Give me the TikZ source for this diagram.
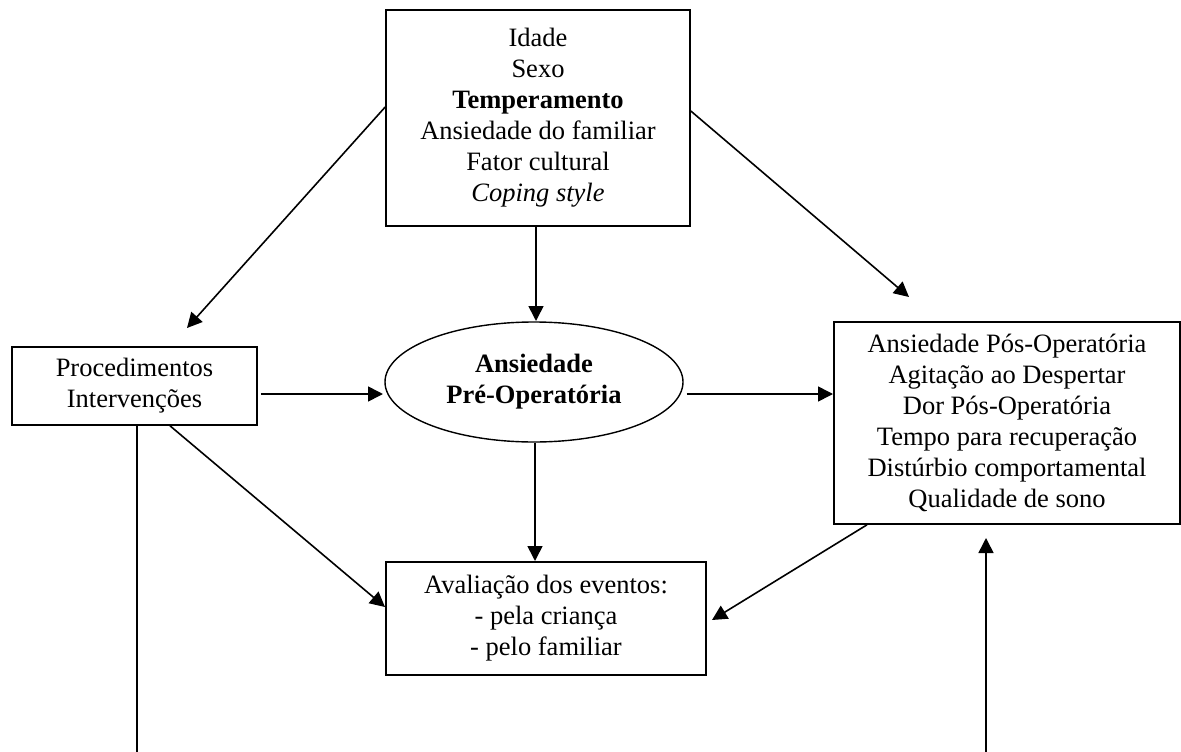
\documentclass[tikz,border=0pt]{standalone}
\usepackage{fontspec}
\setmainfont{Liberation Serif}
\usetikzlibrary{shapes.geometric,arrows.meta}
\begin{document}
\begin{tikzpicture}[x=1pt,y=-1pt,
  every node/.style={font=\fontsize{26.5}{31}\selectfont, align=center, inner sep=0pt},
  box/.style={draw, line width=1.6pt},
  oval/.style={draw, ellipse, line width=1.4pt},
  arr/.style={line width=1.6pt, -{Triangle[length=15pt,width=15pt]}},
  plain/.style={line width=1.6pt}]
\useasboundingbox (0,0) rectangle (1181,752);
% nodes
\node[box, minimum width=304pt, minimum height=216pt] (top) at (538,118)
  {Idade\\Sexo\\\textbf{Temperamento}\\Ansiedade do familiar\\Fator cultural\\\textit{Coping style}};
\node[box, minimum width=245pt, minimum height=78pt] (proc) at (134.5,386)
  {Procedimentos\\Intervenções};
\node[oval, minimum width=298pt, minimum height=120pt] (ell) at (534,382)
  {\textbf{Ansiedade}\\\textbf{Pré-Operatória}};
\node[box, minimum width=346pt, minimum height=202pt] (res) at (1007,423)
  {Ansiedade Pós-Operatória\\Agitação ao Despertar\\Dor Pós-Operatória\\Tempo para recuperação\\Distúrbio comportamental\\Qualidade de sono};
\node[box, minimum width=320pt, minimum height=113pt] (aval) at (546,618.5)
  {Avaliação dos eventos:\\- pela criança\\- pelo familiar};
% free ends
\coordinate (tipProc) at (187,328);
\coordinate (tipRes) at (909,297);
\coordinate (tipEllL) at (383,394);
\coordinate (tipResL) at (833,394);
\coordinate (tipAvalR) at (712,620);
\coordinate (tipAvalL) at (385,607);
\coordinate (tipEllTop) at (536,321);
\coordinate (tipAvalTop) at (535,561);
\coordinate (tipResBot) at (986,538);
\coordinate (botL) at (137,752);
\coordinate (botR) at (986,752);
% connectors
\draw[arr] (top.west |- 0,107) -- (tipProc);
\draw[arr] (top.east |- 0,111) -- (tipRes);
\draw[arr] (top.south -| tipEllTop) -- (tipEllTop);
\draw[arr] (proc.east |- tipEllL) ++(3,0) -- (tipEllL);
\draw[arr] (ell.east |- tipResL) ++(3,0) -- (tipResL);
\draw[arr] (ell.south -| tipAvalTop) -- (tipAvalTop);
\draw[arr] (proc.south -| 170,0) -- (tipAvalL);
\draw[arr] (res.south -| 867,0) -- (tipAvalR);
\draw[plain] (proc.south -| botL) -- (botL);
\draw[arr] (botR) -- (tipResBot);
\end{tikzpicture}
\end{document}
